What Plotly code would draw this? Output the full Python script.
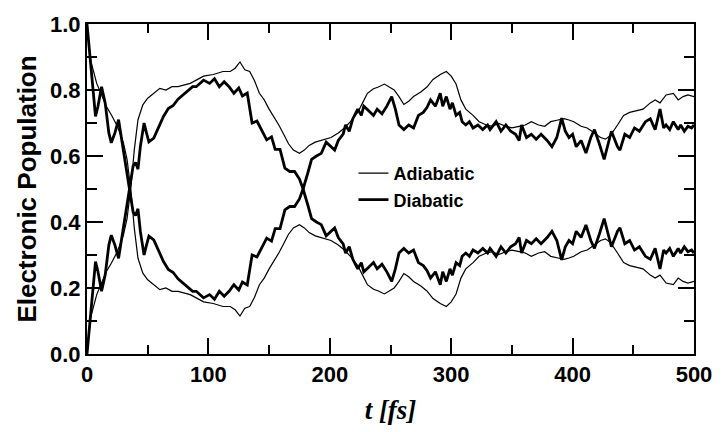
import plotly.graph_objects as go

# ---- data ----
t_adia = [0,3,8,12,16,20,25,30,33,36,
          39,42,46,50,55,60,65,70,75,80,
          85,90,96,104,112,118,122,126,130,134,
          138,142,146,150,154,158,162,166,170,175,
          179,183,188,192,197,201,207,212,217,223,
          227,231,236,240,245,249,253,257,261,265,
          269,275,280,285,291,296,300,304,308,312,
          318,323,329,334,339,345,350,356,361,366,
          372,377,382,388,393,397,401,407,412,418,
          423,427,431,437,442,447,453,458,464,468,
          472,477,483,487,491,495,500]

adia_state1 = [1.0,0.89,0.82,0.785,0.75,0.725,0.69,0.64,0.59,0.5,
               0.38,0.29,0.245,0.225,0.21,0.195,0.20,0.19,0.19,0.185,
               0.18,0.17,0.158,0.153,0.144,0.144,0.134,0.115,0.139,0.144,
               0.172,0.21,0.23,0.258,0.28,0.306,0.334,0.363,0.382,0.392,
               0.382,0.368,0.358,0.353,0.349,0.344,0.33,0.315,0.296,0.268,
               0.239,0.21,0.196,0.191,0.182,0.191,0.20,0.22,0.244,0.234,
               0.22,0.206,0.191,0.168,0.153,0.144,0.158,0.182,0.23,0.258,
               0.277,0.296,0.306,0.31,0.301,0.31,0.315,0.31,0.306,0.296,
               0.306,0.31,0.296,0.291,0.287,0.291,0.296,0.31,0.315,0.33,
               0.344,0.349,0.339,0.306,0.277,0.268,0.263,0.258,0.239,0.23,
               0.239,0.215,0.21,0.23,0.22,0.215,0.22]

adia_state2 = [0.0,0.11,0.18,0.215,0.25,0.275,0.31,0.36,0.41,0.5,
               0.62,0.71,0.755,0.775,0.79,0.805,0.80,0.81,0.81,0.815,
               0.82,0.83,0.842,0.847,0.856,0.856,0.866,0.885,0.861,0.856,
               0.828,0.79,0.77,0.742,0.72,0.694,0.666,0.637,0.618,0.608,
               0.618,0.632,0.642,0.647,0.651,0.656,0.67,0.685,0.704,0.732,
               0.761,0.79,0.804,0.809,0.818,0.809,0.80,0.78,0.756,0.766,
               0.78,0.794,0.809,0.832,0.847,0.856,0.842,0.818,0.77,0.742,
               0.723,0.704,0.694,0.69,0.699,0.69,0.685,0.69,0.694,0.704,
               0.694,0.69,0.704,0.709,0.713,0.709,0.704,0.69,0.685,0.67,
               0.656,0.651,0.661,0.694,0.723,0.732,0.737,0.742,0.761,0.77,
               0.761,0.785,0.79,0.77,0.78,0.785,0.78]

t_dia = [0,2,4,7,9,12,15,18,20,23,
         26,29,32,35,38,40,42,44,47,49,
         51,55,59,63,67,71,75,79,83,87,
         90,93,96,101,105,109,113,117,121,125,
         128,132,136,140,144,148,152,155,159,163,
         167,171,175,178,182,185,189,193,197,200,
         204,207,211,213,216,219,223,226,228,232,
         236,239,243,247,251,254,257,261,265,269,
         273,277,280,283,287,291,293,296,299,301,
         304,307,309,312,315,318,322,326,330,332,
         337,341,345,349,353,356,358,362,366,370,
         374,379,383,387,391,394,397,400,403,407,
         411,415,418,422,426,430,432,437,439,443,
         447,451,455,460,464,468,472,475,477,480,
         483,487,489,492,495,498,500]

dia_state1 = [1.0,0.92,0.82,0.72,0.75,0.81,0.76,0.67,0.64,0.67,
              0.71,0.64,0.57,0.50,0.43,0.42,0.44,0.37,0.30,0.33,
              0.357,0.346,0.31,0.28,0.256,0.247,0.228,0.215,0.205,0.19,
              0.19,0.18,0.17,0.18,0.166,0.19,0.175,0.19,0.21,0.194,
              0.218,0.209,0.30,0.294,0.323,0.351,0.342,0.38,0.38,0.437,
              0.447,0.447,0.47,0.50,0.55,0.59,0.60,0.608,0.642,0.632,
              0.618,0.647,0.666,0.694,0.675,0.713,0.742,0.723,0.751,0.737,
              0.723,0.742,0.728,0.751,0.78,0.742,0.694,0.68,0.694,0.685,
              0.723,0.732,0.747,0.77,0.751,0.79,0.751,0.78,0.742,0.761,
              0.723,0.732,0.704,0.694,0.704,0.685,0.694,0.68,0.694,0.68,
              0.704,0.675,0.694,0.675,0.666,0.647,0.694,0.656,0.666,0.651,
              0.666,0.647,0.628,0.656,0.715,0.675,0.656,0.666,0.628,0.647,
              0.609,0.656,0.68,0.637,0.59,0.647,0.675,0.628,0.618,0.666,
              0.656,0.685,0.675,0.704,0.713,0.68,0.742,0.685,0.694,0.68,
              0.704,0.68,0.694,0.675,0.69,0.685,0.694]

dia_state2 = [0.0,0.08,0.18,0.28,0.25,0.19,0.24,0.33,0.36,0.33,
              0.29,0.36,0.43,0.50,0.57,0.58,0.56,0.63,0.70,0.67,
              0.643,0.654,0.69,0.72,0.744,0.753,0.772,0.785,0.795,0.81,
              0.81,0.82,0.83,0.82,0.834,0.81,0.825,0.81,0.79,0.806,
              0.782,0.791,0.70,0.706,0.677,0.649,0.658,0.62,0.62,0.563,
              0.553,0.553,0.53,0.50,0.45,0.41,0.40,0.392,0.358,0.368,
              0.382,0.353,0.334,0.306,0.325,0.287,0.258,0.277,0.249,0.263,
              0.277,0.258,0.272,0.249,0.22,0.258,0.306,0.32,0.306,0.315,
              0.277,0.268,0.253,0.23,0.249,0.21,0.249,0.22,0.258,0.239,
              0.277,0.268,0.296,0.306,0.296,0.315,0.306,0.32,0.306,0.32,
              0.296,0.325,0.306,0.325,0.334,0.353,0.306,0.344,0.334,0.349,
              0.334,0.353,0.372,0.344,0.285,0.325,0.344,0.334,0.372,0.353,
              0.391,0.344,0.32,0.363,0.41,0.353,0.325,0.372,0.382,0.334,
              0.344,0.315,0.325,0.296,0.287,0.32,0.258,0.315,0.306,0.32,
              0.296,0.32,0.306,0.325,0.31,0.315,0.306]

x_ticks = [0, 100, 200, 300, 400, 500]
y_ticks = [0.0, 0.2, 0.4, 0.6, 0.8, 1.0]

# ---- figure ----
SANS = "Liberation Sans, Arial, sans-serif"
fig = go.Figure()

thin = dict(color="black", width=1.2)
thick = dict(color="black", width=2.8)

fig.add_trace(go.Scatter(x=t_adia, y=adia_state1, mode="lines", line=thin,
                         name="Adiabatic", legendgroup="a", showlegend=True))
fig.add_trace(go.Scatter(x=t_adia, y=adia_state2, mode="lines", line=thin,
                         name="Adiabatic", legendgroup="a", showlegend=False))
fig.add_trace(go.Scatter(x=t_dia, y=dia_state1, mode="lines", line=thick,
                         name="Diabatic", legendgroup="d", showlegend=True))
fig.add_trace(go.Scatter(x=t_dia, y=dia_state2, mode="lines", line=thick,
                         name="Diabatic", legendgroup="d", showlegend=False))

axis_common = dict(
    showline=True, linecolor="black", linewidth=2, mirror="allticks",
    ticks="inside", tickcolor="black", tickwidth=2,
    showgrid=False, zeroline=False,
    tickfont=dict(family=SANS, size=22, color="black", weight="bold"),
)

fig.update_xaxes(
    range=[0, 500], tickmode="linear", tick0=x_ticks[0],
    dtick=x_ticks[1] - x_ticks[0], ticklen=16,
    minor=dict(dtick=(x_ticks[1] - x_ticks[0]) / 2, ticks="inside", ticklen=9,
               tickwidth=2, tickcolor="black", showgrid=False),
    title=dict(text="t [fs]", standoff=14,
               font=dict(family="Liberation Serif, Times New Roman, serif", size=27,
                         color="black", style="italic", weight="bold")),
    **axis_common,
)
fig.update_yaxes(
    range=[0, 1], tickmode="linear", tick0=y_ticks[0],
    dtick=y_ticks[1] - y_ticks[0], tickformat=".1f", ticklen=16,
    minor=dict(dtick=(y_ticks[1] - y_ticks[0]) / 2, ticks="inside", ticklen=10,
               tickwidth=2, tickcolor="black", showgrid=False),
    title=dict(text="Electronic Population", standoff=6,
               font=dict(family=SANS, size=26, color="black", weight="bold")),
    **axis_common,
)

fig.update_layout(
    width=724, height=432,
    margin=dict(l=87, r=22, t=18, b=64),
    paper_bgcolor="white", plot_bgcolor="white",
    showlegend=True,
    legend=dict(x=0.439, y=0.603, xanchor="left", yanchor="top",
                bgcolor="rgba(0,0,0,0)", borderwidth=0,
                font=dict(family=SANS, size=18, color="black", weight="bold"),
                tracegroupgap=0),
)

fig.write_html("out.html")
